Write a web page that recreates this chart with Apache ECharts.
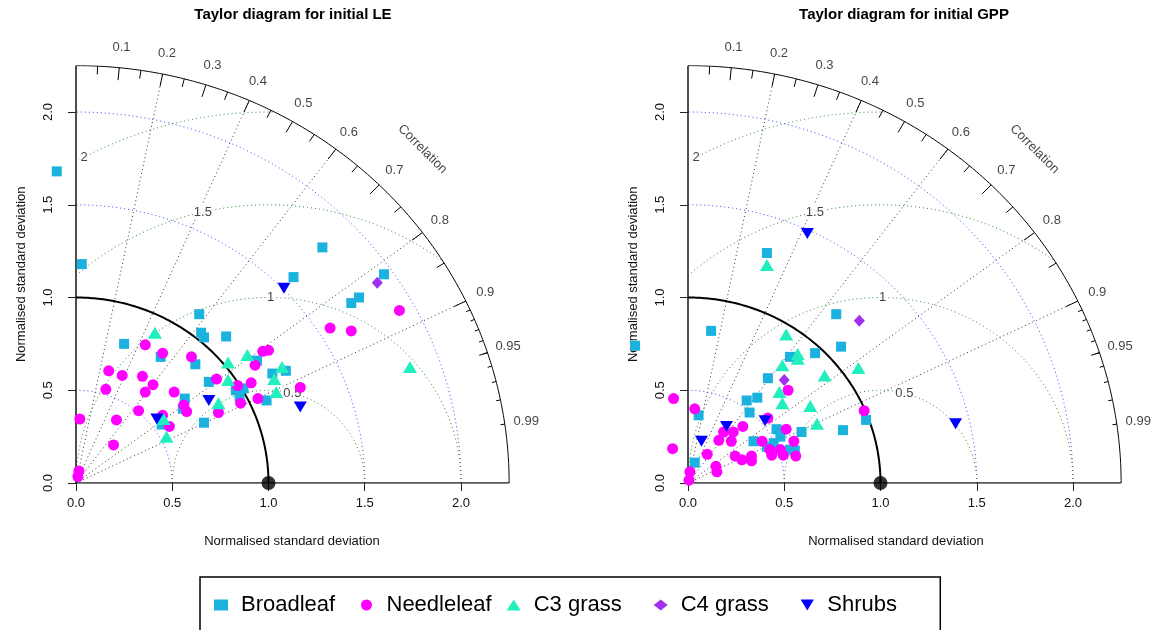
<!DOCTYPE html>
<html>
<head>
<meta charset="utf-8">
<script src="https://cdn.jsdelivr.net/npm/echarts@6/dist/echarts.min.js"></script>
<style>
  html, body { margin: 0; padding: 0; background: #fff; }
  #main { width: 1158px; height: 630px; }
</style>
</head>
<body>
<div id="main"></div>
<script>
const groups = ['Broadleaf', 'Needleleaf', 'C3 grass', 'C4 grass', 'Shrubs'];

// points as [x, y] in normalised standard deviation space (LE panel)
const leBroadleaf = [[-0.10, 1.68], [0.03, 1.18], [1.28, 1.27], [1.13, 1.11], [1.60, 1.125], [1.43, 0.97],
  [1.47, 1.00], [0.64, 0.91], [0.65, 0.81], [0.665, 0.785], [0.78, 0.79], [0.62, 0.64], [0.94, 0.66],
  [1.02, 0.59], [1.09, 0.605], [0.69, 0.545], [0.83, 0.50], [0.87, 0.51], [0.85, 0.465], [0.99, 0.445],
  [0.565, 0.455], [0.555, 0.40], [0.665, 0.325], [0.25, 0.75], [0.44, 0.68], [0.445, 0.315]];
const leNeedleleaf = [[1.68, 0.93], [1.43, 0.82], [1.32, 0.835], [0.60, 0.68], [0.97, 0.71], [1.00, 0.715],
  [0.93, 0.635], [0.73, 0.56], [0.84, 0.525], [0.91, 0.54], [1.165, 0.515], [0.945, 0.455], [0.855, 0.43],
  [0.56, 0.42], [0.575, 0.385], [0.74, 0.38], [0.36, 0.745], [0.45, 0.70], [0.17, 0.605], [0.24, 0.58],
  [0.345, 0.575], [0.40, 0.53], [0.155, 0.505], [0.36, 0.49], [0.51, 0.49], [0.325, 0.39], [0.21, 0.34],
  [0.02, 0.345], [0.45, 0.365], [0.485, 0.305], [0.195, 0.205], [0.015, 0.065], [0.01, 0.035]];
const leC3 = [[0.41, 0.81], [0.79, 0.65], [0.89, 0.69], [1.07, 0.625], [1.03, 0.56], [0.79, 0.555],
  [1.04, 0.49], [0.74, 0.43], [0.455, 0.345], [0.47, 0.25], [1.735, 0.625]];
const leC4 = [[1.565, 1.08]];
const leShrubs = [[1.08, 1.05], [1.165, 0.41], [0.69, 0.445], [0.42, 0.345]];

// GPP panel
const gppBroadleaf = [[0.41, 1.24], [-0.275, 0.74], [0.12, 0.82], [0.53, 0.68], [0.415, 0.565], [0.305, 0.445],
  [0.36, 0.46], [0.055, 0.365], [0.32, 0.38], [0.46, 0.29], [0.48, 0.25], [0.34, 0.225], [0.445, 0.215],
  [0.41, 0.195], [0.53, 0.18], [0.035, 0.11], [0.77, 0.91], [0.795, 0.735], [0.66, 0.70], [0.925, 0.34],
  [0.805, 0.285], [0.59, 0.275], [0.555, 0.175]];
const gppNeedleleaf = [[-0.075, 0.455], [0.52, 0.50], [0.035, 0.40], [0.415, 0.35], [0.285, 0.305], [0.185, 0.275],
  [0.235, 0.275], [0.51, 0.29], [0.16, 0.23], [0.225, 0.225], [0.385, 0.225], [-0.08, 0.185], [0.425, 0.18],
  [0.435, 0.15], [0.48, 0.18], [0.495, 0.15], [0.10, 0.155], [0.245, 0.145], [0.28, 0.125], [0.33, 0.145],
  [0.33, 0.12], [0.145, 0.09], [0.15, 0.06], [0.01, 0.06], [0.005, 0.015], [0.915, 0.39], [0.55, 0.225],
  [0.56, 0.145]];
const gppC3 = [[0.41, 1.175], [0.51, 0.80], [0.49, 0.635], [0.475, 0.49], [0.49, 0.43], [0.57, 0.695],
  [0.57, 0.67], [0.885, 0.62], [0.71, 0.58], [0.635, 0.415], [0.67, 0.32]];
const gppC4 = [[0.89, 0.875], [0.50, 0.555]];
const gppShrubs = [[0.62, 1.345], [0.40, 0.335], [0.20, 0.305], [0.07, 0.225], [1.39, 0.32]];

const corrLabels = [0.1, 0.2, 0.3, 0.4, 0.5, 0.6, 0.7, 0.8, 0.9, 0.95, 0.99];
const corrLines = [0.2, 0.4, 0.6, 0.8, 0.9];
const sdArcs = [0.5, 1.5, 2.0];
const rmsArcs = [0.5, 1, 1.5, 2];
const axisValues = [0, 0.5, 1, 1.5, 2];
const maxSd = 2.25;
const refSd = 1;

const styles = {
  'Broadleaf': { symbol: 'rect', symbolSize: 10, color: '#1BB2DF' },
  'Needleleaf': { symbol: 'circle', symbolSize: 11, color: '#FF00FF' },
  'C3 grass': { symbol: 'triangle', symbolSize: [14, 12], color: '#22EFBE' },
  'C4 grass': { symbol: 'diamond', symbolSize: [11, 12], color: '#A030EE' },
  'Shrubs': { symbol: 'path://M0,0 L12,0 L6,10 Z', symbolSize: [13, 11], color: '#0000FF' }
};
const panels = [
  { title: 'Taylor diagram for initial LE', data: [leBroadleaf, leNeedleleaf, leC3, leC4, leShrubs], x0: 76, tx: 293, lx: 292 },
  { title: 'Taylor diagram for initial GPP', data: [gppBroadleaf, gppNeedleleaf, gppC3, gppC4, gppShrubs], x0: 688, tx: 904, lx: 896 }
];

const font = 'Liberation Sans, Arial, Helvetica, sans-serif';
const pxX = 192.5, pxY = 185.5, y0 = 483;
const xMax = 2.3;

function arc(cx, r, a0, a1) {
  const pts = [];
  const n = 300;
  for (let i = 0; i <= n; i++) {
    const a = a0 + (a1 - a0) * i / n;
    const x = cx + r * Math.cos(a), y = r * Math.sin(a);
    if (x >= 0 && x * x + y * y <= maxSd * maxSd + 1e-9) pts.push([x, y]);
  }
  return pts;
}
function onRay(c, r) {
  return [r * c, r * Math.sqrt(1 - c * c)];
}

const grid = [], xAxis = [], yAxis = [], series = [], graphic = [];

panels.forEach((p, gi) => {
  grid.push({
    left: p.x0, top: y0 - maxSd * pxY,
    width: xMax * pxX, height: maxSd * pxY,
    outerBoundsMode: 'none'
  });
  xAxis.push({
    type: 'value', gridIndex: gi, min: 0, max: xMax,
    splitLine: { show: false }, axisLine: { show: false },
    axisTick: { show: true, length: 8, customValues: axisValues, lineStyle: { color: '#222' } },
    axisLabel: { customValues: axisValues, margin: 14, fontSize: 13, fontFamily: font, color: '#111',
      formatter: v => v.toFixed(1) }
  });
  yAxis.push({
    type: 'value', gridIndex: gi, min: 0, max: maxSd,
    splitLine: { show: false }, axisLine: { show: false },
    axisTick: { show: true, length: 8, customValues: axisValues, lineStyle: { color: '#222' } },
    axisLabel: { customValues: axisValues, rotate: 90, margin: 21, fontSize: 13, fontFamily: font, color: '#111',
      formatter: v => v.toFixed(1) },
    name: 'Normalised standard deviation', nameLocation: 'middle', nameGap: 48, nameRotate: 90,
    nameTextStyle: { fontSize: 13, fontFamily: font, color: '#111' }
  });
  const ax = { xAxisIndex: gi, yAxisIndex: gi, silent: true, animation: false };

  sdArcs.forEach(r => series.push(Object.assign({
    type: 'line', data: arc(0, r, 0, Math.PI / 2), showSymbol: false, symbol: 'none', z: 1,
    lineStyle: { color: '#4444ff', width: 1, type: [1, 3] }
  }, ax)));
  rmsArcs.forEach(g => series.push(Object.assign({
    type: 'line', data: arc(refSd, g, 0, Math.PI), showSymbol: false, symbol: 'none', z: 1,
    lineStyle: { color: '#2a8a2a', width: 1, type: [1, 3] }
  }, ax)));
  series.push(Object.assign({
    type: 'lines', coordinateSystem: 'cartesian2d', z: 1,
    data: corrLines.map(c => ({ coords: [[0, 0], onRay(c, maxSd)] })),
    lineStyle: { color: '#333', width: 1, type: [1, 3], opacity: 1 }
  }, ax));
  // outer correlation arc and its ticks
  series.push(Object.assign({
    type: 'line', data: arc(0, maxSd, 0, Math.PI / 2), showSymbol: false, symbol: 'none', z: 2,
    lineStyle: { color: '#000', width: 1 }
  }, ax));
  const ticks = [];
  for (let i = 1; i <= 9; i++) ticks.push({ coords: [onRay(i / 10, maxSd), onRay(i / 10, maxSd * 0.97)] });
  for (let i = 0; i <= 9; i++) { const c = 0.05 + i * 0.1; ticks.push({ coords: [onRay(c, maxSd), onRay(c, maxSd * 0.98)] }); }
  for (let i = 1; i <= 9; i++) { const c = 0.9 + i / 100; ticks.push({ coords: [onRay(c, maxSd), onRay(c, maxSd * 0.99)] }); }
  series.push(Object.assign({
    type: 'lines', coordinateSystem: 'cartesian2d', z: 2, data: ticks,
    lineStyle: { color: '#000', width: 1, opacity: 1 }
  }, ax));
  // axes lines
  series.push(Object.assign({
    type: 'lines', coordinateSystem: 'cartesian2d', z: 3,
    data: [{ coords: [[0, 0], [maxSd, 0]] }, { coords: [[0, 0], [0, maxSd]] }],
    lineStyle: { color: '#222', width: 1.6, opacity: 1 }
  }, ax));
  // reference sd arc
  series.push(Object.assign({
    type: 'line', data: arc(0, refSd, 0, Math.PI / 2), showSymbol: false, symbol: 'none', z: 3,
    lineStyle: { color: '#000', width: 2 }
  }, ax));
  // correlation labels
  series.push(Object.assign({
    type: 'scatter', z: 4, symbolSize: 1, itemStyle: { color: 'rgba(0,0,0,0)' }, clip: false,
    data: corrLabels.map(c => ({ name: String(c), value: onRay(c, maxSd * 1.05) }))
      .concat([{ name: 'Correlation', value: [maxSd * 0.8, maxSd * 0.8], label: { rotate: -45 } }]),
    label: { show: true, position: 'inside', formatter: q => q.name, fontSize: 13, fontFamily: font, color: '#111' }
  }, ax));
  // rms labels
  const labelIdx = [44, 52, 60, 69];
  series.push(Object.assign({
    type: 'scatter', z: 4, symbolSize: 1, itemStyle: { color: 'rgba(0,0,0,0)' }, clip: false,
    data: rmsArcs.map((g, k) => {
      const a = labelIdx[k] * 0.03;
      return { name: String(g), value: [refSd + g * Math.cos(a), g * Math.sin(a)] };
    }),
    label: { show: true, position: 'inside', formatter: q => q.name, fontSize: 13, fontFamily: font, color: '#111',
      backgroundColor: '#fff', padding: [1, 1] }
  }, ax));

  groups.forEach((name, k) => {
    const s = styles[name];
    series.push(Object.assign({
      type: 'scatter', name, data: p.data[k], symbol: s.symbol, symbolSize: s.symbolSize, clip: false, z: 5 + k,
      itemStyle: { color: s.color, opacity: 1 }
    }, ax));
  });
  // reference point
  series.push(Object.assign({
    type: 'scatter', data: [[refSd, 0]], symbol: 'circle', symbolSize: 14, clip: false, z: 12,
    itemStyle: { color: '#000' }
  }, ax));

  graphic.push({
    type: 'text', x: p.tx, y: 15, z: 20,
    style: { text: p.title, align: 'center', verticalAlign: 'middle', font: 'bold 15px ' + font, fill: '#000' }
  });
  graphic.push({
    type: 'text', x: p.lx, y: 541, z: 20,
    style: { text: 'Normalised standard deviation', align: 'center', verticalAlign: 'middle', font: '13px ' + font, fill: '#111' }
  });
});

const chart = echarts.init(document.getElementById('main'));
chart.setOption({
  animation: false,
  backgroundColor: '#fff',
  grid, xAxis, yAxis, series, graphic,
  legend: {
    data: groups, left: 200, top: 577, orient: 'horizontal', selectedMode: false,
    padding: [16, 8, 40, 14], borderColor: '#000', borderWidth: 1.5,
    itemWidth: 14, itemHeight: 11, itemGap: 15,
    textStyle: { fontSize: 22, fontFamily: font, color: '#000', width: 105, lineHeight: 24, padding: [0, 0, 0, 8] }
  }
});
</script>
</body>
</html>
